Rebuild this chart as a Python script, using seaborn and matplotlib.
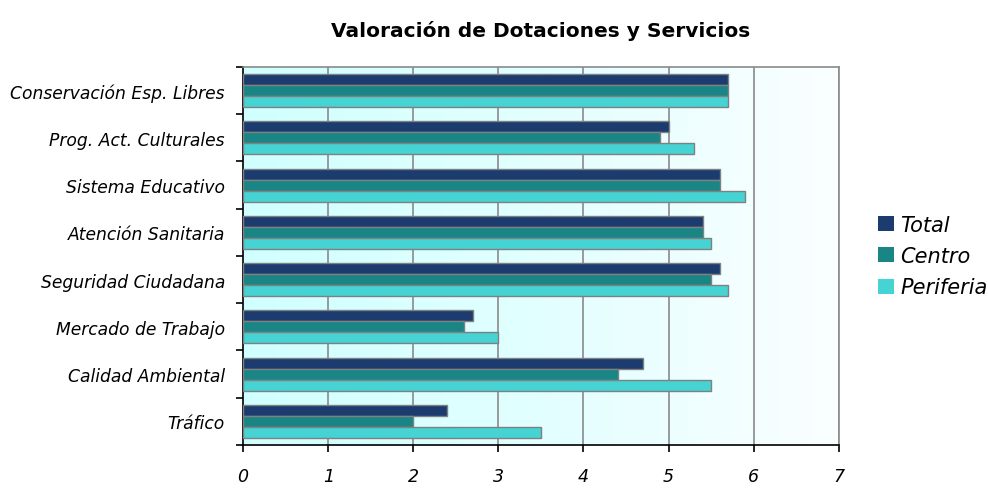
import numpy as np
import pandas as pd
import matplotlib
matplotlib.use("Agg")
import matplotlib.pyplot as plt
import seaborn as sns
from matplotlib.colors import LinearSegmentedColormap

categories = ["Conservación Esp. Libres", "Prog. Act. Culturales", "Sistema Educativo",
              "Atención Sanitaria", "Seguridad Ciudadana", "Mercado de Trabajo",
              "Calidad Ambiental", "Tráfico"]
total = [5.7, 5.0, 5.6, 5.4, 5.6, 2.7, 4.7, 2.4]
centro = [5.7, 4.9, 5.6, 5.4, 5.5, 2.6, 4.4, 2.0]
periferia = [5.7, 5.3, 5.9, 5.5, 5.7, 3.0, 5.5, 3.5]
series = ["Total", "Centro", "Periferia"]
x_ticks = [0, 1, 2, 3, 4, 5, 6, 7]

df = pd.DataFrame({
    "cat": categories * 3,
    "val": total + centro + periferia,
    "serie": [s for s in series for _ in categories],
})

sns.set_theme(style="white")
plt.rcParams['font.family'] = ['DejaVu Sans']
plt.rcParams['text.color'] = 'black'
plt.rcParams['xtick.color'] = 'black'
plt.rcParams['ytick.color'] = 'black'

fig = plt.figure(figsize=(9.88, 4.89), dpi=100)
ax = fig.add_axes([0.246, 0.088, 0.603, 0.773])

# background gradient
cmap = LinearSegmentedColormap.from_list("bg", ["#d0ffff", "#e2ffff", "#fbfeff"])
grad = np.linspace(0, 1, 256).reshape(1, -1)
ax.imshow(grad, extent=[0, 1, 0, 1], transform=ax.transAxes, aspect="auto",
          cmap=cmap, zorder=0)

palette = {"Total": "#1c3b6e", "Centro": "#1a8585", "Periferia": "#45d3d3"}
sns.barplot(data=df, y="cat", x="val", hue="serie", order=categories,
            hue_order=series, palette=palette, orient="h", width=0.7,
            edgecolor="#808080", linewidth=1.0, saturation=1, ax=ax,
            legend=True, zorder=3)

ax.set_xlim(0, 7)
ax.set_ylim(len(categories) - 0.5, -0.5)
ax.set_xticks(x_ticks)
ax.set_xticklabels([str(t) for t in x_ticks], fontstyle="italic", fontsize=12.5)
ax.set_yticks(range(len(categories)))
ax.set_yticklabels(categories, fontstyle="italic", fontsize=12.3)
ax.tick_params(axis="y", length=0, pad=13)
ax.tick_params(axis="x", length=5, width=1.2, color="black", direction="out", pad=11,
               bottom=True)
ax.set_yticks(np.arange(-0.5, len(categories), 1), minor=True)
ax.tick_params(axis="y", which="minor", length=5, width=1.2, color="black", left=True)
ax.set_xlabel("")
ax.set_ylabel("")
for x in x_ticks[1:]:
    ax.axvline(x, color="#8a8a8a", lw=1.2, zorder=1)
for s in ["top", "right"]:
    ax.spines[s].set_color("#8a8a8a")
    ax.spines[s].set_linewidth(1.2)
for s in ["left", "bottom"]:
    ax.spines[s].set_color("black")
    ax.spines[s].set_linewidth(1.2)

leg = ax.legend(loc="center left", bbox_to_anchor=(1.035, 0.5), frameon=False,
                prop={"style": "italic", "size": 15}, handlelength=0.75,
                handleheight=0.75, handletextpad=0.3, labelspacing=0.55)
for h in leg.legend_handles:
    h.set_edgecolor("none")

ax.set_title("Valoración de Dotaciones y Servicios", fontsize=14.5,
             fontweight="bold", pad=22)

fig.savefig("out.png", dpi=100)
